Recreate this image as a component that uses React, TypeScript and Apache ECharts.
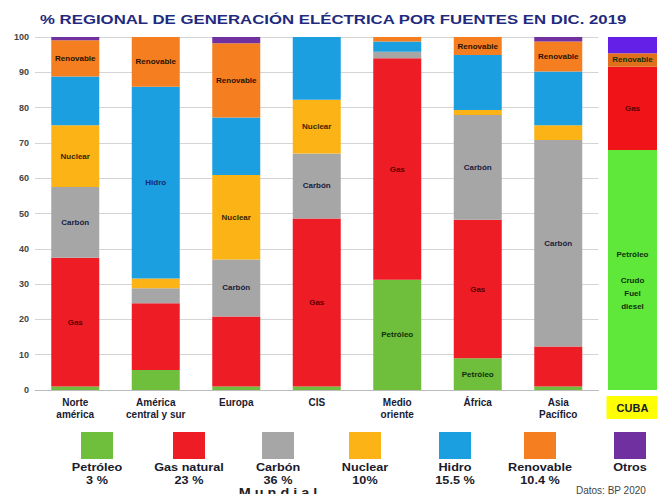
import React, { useEffect, useRef } from "react";
import * as echarts from "echarts";

const categories = ["Norte\namérica", "América\ncentral y sur", "Europa", "CIS", "Medio\noriente", "África", "Asia\nPacífico"];
const sources = ["Petróleo", "Gas natural", "Carbón", "Nuclear", "Hidro", "Renovable", "Otros"];
const petroleo = [1, 5.7, 1, 1, 31.2, 9, 1];
const gas = [36.5, 18.9, 19.8, 47.6, 62.8, 39.2, 11.3];
const carbon = [20, 4.2, 16.2, 18.4, 1.8, 29.7, 58.5];
const nuclear = [17.5, 2.8, 23.9, 15.2, 0, 1.4, 4.2];
const hidro = [13.8, 54.3, 16.3, 17.8, 2.9, 15.6, 15.2];
const renovable = [10.3, 14.1, 21, 0, 1.3, 5.1, 8.5];
const otros = [0.9, 0, 1.8, 0, 0, 0, 1.3];

const cubaCategories = ["CUBA"];
const cubaPetroleo = [68];
const cubaGas = [23.6];
const cubaRenovable = [3.8];
const cubaOtros = [4.6];

const worldShare = ["3 %", "23 %", "36 %", "10%", "15.5 %", "10.4 %", ""];
const segmentLabels = ["Petróleo", "Gas", "Carbón", "Nuclear", "Hidro", "Renovable", ""];
const labeledBars = [[4, 5], [0, 3, 4, 5], [0, 2, 3, 5, 6], [0, 2, 3], [1], [0, 1, 2, 5, 6], []];
const yTicks = [0, 10, 20, 30, 40, 50, 60, 70, 80, 90, 100];
const titleText = "% REGIONAL DE GENERACIÓN ELÉCTRICA POR FUENTES EN DIC. 2019";

const colors = ["#6fbf3c", "#ee1c25", "#a6a6a6", "#fcb316", "#1c9fe0", "#f57f20", "#7030a0"];
const labelColors = ["#10300a", "#5a0000", "#1a2040", "#3a2500", "#102a70", "#2a1200", "#000"];
const legendX = [97, 189, 278, 365, 455, 540, 630];

export default function App() {
  const ref = useRef<HTMLDivElement>(null);
  useEffect(() => {
    if (!ref.current) return;
    const chart = echarts.init(ref.current, null, { renderer: "svg" });
    const values = [petroleo, gas, carbon, nuclear, hidro, renovable, otros];
    const font = "Liberation Sans";
    const mainSeries = values.map((arr, si) => ({
      name: sources[si],
      type: "bar",
      stack: "a",
      xAxisIndex: 0,
      yAxisIndex: 0,
      barWidth: 48,
      itemStyle: { color: colors[si] },
      data: arr.map((v, i) => ({
        value: v,
        label: {
          show: labeledBars[si].includes(i),
          position: "inside",
          formatter: segmentLabels[si],
          color: labelColors[si],
          fontSize: 8,
          fontWeight: "bold",
          fontFamily: font,
        },
      })),
    }));
    const cubaVals = [cubaPetroleo, cubaGas, cubaRenovable, cubaOtros];
    const cubaColors = ["#5fe83a", "#f01418", "#e0701c", "#6420e6"];
    const cubaLabels = ["Petróleo\n\nCrudo\nFuel\ndiesel", "Gas", "Renovable", ""];
    const cubaSeries = cubaVals.map((arr, si) => ({
      name: "cuba" + si,
      type: "bar",
      stack: "b",
      xAxisIndex: 1,
      yAxisIndex: 1,
      barWidth: 49,
      itemStyle: { color: cubaColors[si] },
      label: {
        show: cubaLabels[si] !== "",
        position: "inside",
        formatter: cubaLabels[si],
        color: si === 1 ? "#5a0000" : "#10300a",
        fontSize: 8,
        lineHeight: 13,
        fontWeight: "bold",
        fontFamily: font,
        offset: si === 0 ? [0, 11] : [0, 0],
      },
      data: arr,
    }));
    const graphics: any[] = [
      {
        type: "text",
        x: 40,
        y: 14,
        scaleX: 1.4,
        style: { text: titleText, fill: "#1f2a80", font: "bold 12px 'Liberation Sans'" },
      },
      {
        type: "text",
        x: 278,
        y: 487,
        scaleX: 1.2,
        style: { text: "M u n d i a l", fill: "#222", font: "bold 12px 'Liberation Sans'", textAlign: "center" },
      },
      {
        type: "text",
        x: 576,
        y: 485,
        style: { text: "Datos: BP 2020", fill: "#444", font: "10px 'Liberation Sans'" },
      },
    ];
    sources.forEach((s, i) => {
      graphics.push({
        type: "rect",
        shape: { x: legendX[i] - 16, y: 432, width: 32, height: 27 },
        style: { fill: colors[i] },
      });
      graphics.push({
        type: "text",
        x: legendX[i],
        y: 461,
        scaleX: 1.15,
        style: {
          text: worldShare[i] ? s + "\n" + worldShare[i] : s,
          fill: "#1a1a2a",
          font: "bold 11px 'Liberation Sans'",
          textAlign: "center",
          lineHeight: 13,
        },
      });
    });
    chart.setOption({
      animation: false,
      grid: [
        { left: 35, width: 563.5, top: 37, bottom: 112 },
        { left: 604, width: 57, top: 37, bottom: 112 },
      ],
      xAxis: [
        {
          type: "category",
          gridIndex: 0,
          data: categories,
          axisLine: { lineStyle: { color: "#bbb" } },
          axisTick: { show: false },
          axisLabel: { color: "#1a1a30", fontSize: 10, fontWeight: "bold", fontFamily: font, lineHeight: 12, margin: 6 },
        },
        {
          type: "category",
          gridIndex: 1,
          data: cubaCategories,
          axisLine: { show: false },
          axisTick: { show: false },
          axisLabel: {
            color: "#1a1a30",
            fontSize: 11,
            fontWeight: "bold",
            fontFamily: font,
            backgroundColor: "#ffff00",
            width: 48,
            align: "center",
            padding: [6, 2, 6, 2],
            margin: 6,
          },
        },
      ],
      yAxis: [
        {
          type: "value",
          gridIndex: 0,
          min: yTicks[0],
          max: yTicks[yTicks.length - 1],
          interval: 10,
          axisLine: { show: false },
          axisTick: { show: false },
          splitLine: { lineStyle: { color: "#d4d4d4" } },
          axisLabel: { color: "#444", fontSize: 9, fontWeight: "bold", fontFamily: font, margin: 6 },
        },
        {
          type: "value",
          gridIndex: 1,
          min: 0,
          max: 100,
          interval: 10,
          axisLine: { show: false },
          axisTick: { show: false },
          splitLine: { show: false },
          axisLabel: { show: false },
        },
      ],
      graphic: graphics,
      series: [...mainSeries, ...cubaSeries],
    });
    return () => chart.dispose();
  }, []);
  return <div ref={ref} style={{ width: 665, height: 502, margin: -8 }} />;
}
